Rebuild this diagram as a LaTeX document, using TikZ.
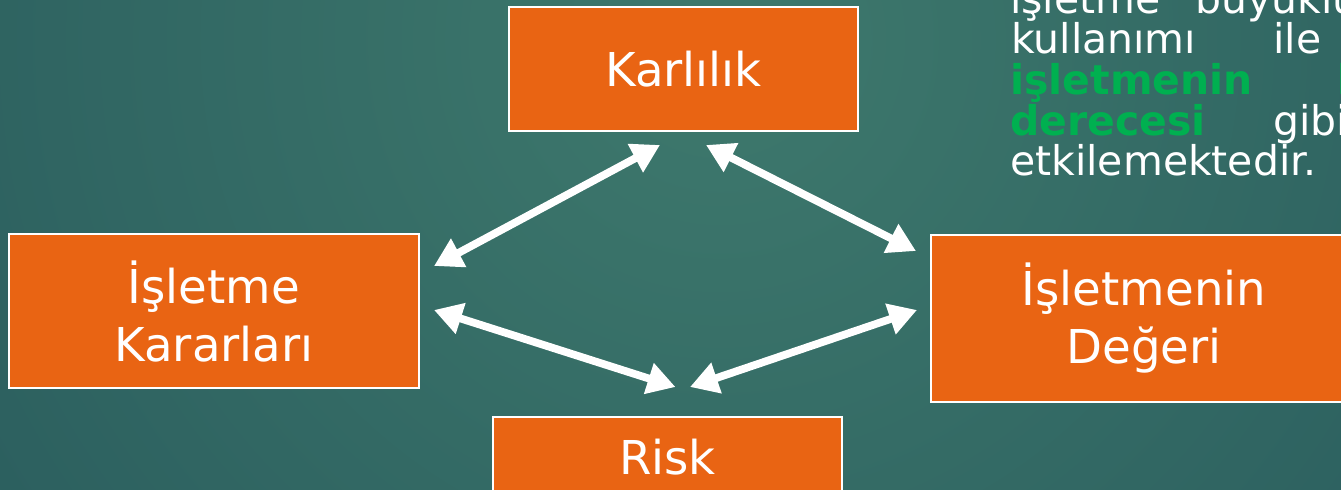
\documentclass[tikz,border=0pt]{standalone}
\usepackage{fontspec}
\setmainfont{DejaVu Sans}
\usepackage{xcolor}
\usetikzlibrary{arrows.meta}

\definecolor{bgdark}{HTML}{285A5C}
\definecolor{bglight}{HTML}{3E796D}
\definecolor{boxorange}{HTML}{E96413}
\definecolor{textgreen}{HTML}{00B050}

\begin{document}
\begin{tikzpicture}[x=0.75pt, y=-0.75pt,
    box/.style={draw=white, line width=1.5pt, fill=boxorange, text=white,
      align=center, inner sep=0pt, font=\fontsize{35}{43.5}\selectfont},
    link/.style={white, line width=5.8pt,
      {Triangle[length=21pt,width=23pt]}-{Triangle[length=21pt,width=23pt]}},
    para/.style={text=white, anchor=base west, inner sep=0pt,
      font=\fontsize{30.7}{30.5}\selectfont},
    hl/.style={para, text=textgreen, font=\fontsize{30.7}{30.5}\selectfont\bfseries}]

  \path[use as bounding box] (0,0) rectangle (1341,489);
  \clip (0,0) rectangle (1341,489);

  % background
  \fill[bgdark] (0,0) rectangle (1341,489);
  \shade[inner color=bglight, outer color=bgdark] (720,40) circle (780pt);

  % boxes
  \node[box, minimum width=261.75pt, minimum height=93pt] (karlilik) at (683.5,69) {Karlılık};
  \node[box, minimum width=307.5pt, minimum height=115.5pt] (kararlar) at (214,311) {İşletme\\Kararları};
  \node[box, minimum width=319.5pt, minimum height=125.25pt] (deger) at (1144,318.5) {İşletmenin\\Değeri};
  \node[box, anchor=north, minimum width=261.75pt, inner ysep=16.5pt] (risk) at (667.5,416) {Risk};

  % arrow ends
  \coordinate (karlilik-l) at ([shift={(-23.5,13)}]karlilik.south);
  \coordinate (karlilik-r) at ([shift={(22.5,13)}]karlilik.south);
  \coordinate (kararlar-t) at ([shift={(14,-45)}]kararlar.east);
  \coordinate (kararlar-b) at ([shift={(14,-1)}]kararlar.east);
  \coordinate (deger-t) at ([shift={(-14,-67.5)}]deger.west);
  \coordinate (deger-b) at ([shift={(-13,-8.5)}]deger.west);
  \coordinate (risk-l) at ([shift={(8,-29)}]risk.north);
  \coordinate (risk-r) at ([shift={(22.5,-29)}]risk.north);

  \draw[link] (karlilik-l) -- (kararlar-t);
  \draw[link] (karlilik-r) -- (deger-t);
  \draw[link] (kararlar-b) -- (risk-l);
  \draw[link] (deger-b) -- (risk-r);

  % text at the top right
  \node[para] (t1a) at (1010,13) {işletme};
  \node[para] (t1b) at (1195,13) {büyüklüğü};
  \node[para] (t2a) at (1011,53) {kullanımı};
  \node[para] (t2b) at (1273,53) {ile};
  \node[hl] (t3a) at (1010,94) {işletmenin};
  \node[hl] (t3b) at (1337,94) {b};
  \node[hl] (t4a) at (1010,135) {derecesi};
  \node[para] (t4b) at (1273,135) {gibi};
  \node[para] (t5a) at (1010,175) {etkilemektedir.};
\end{tikzpicture}
\end{document}
